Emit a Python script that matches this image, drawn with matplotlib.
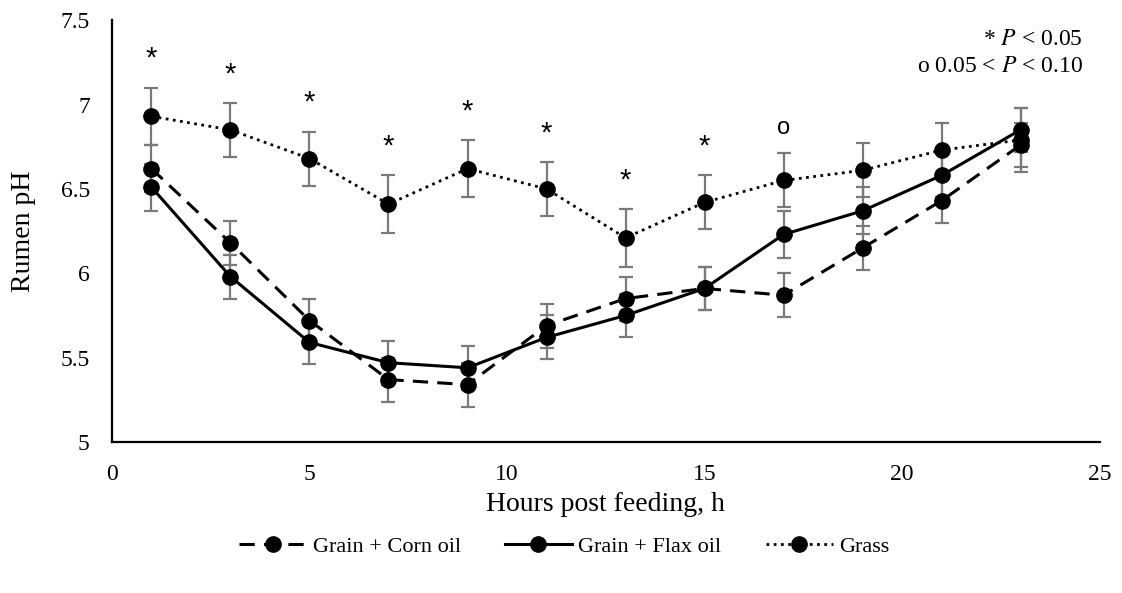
import matplotlib
matplotlib.use('Agg')
import matplotlib.pyplot as plt

plt.rcParams['font.family'] = 'Liberation Serif'
plt.rcParams['mathtext.fontset'] = 'stix'

# hours after feeding
hours = [1, 3, 5, 7, 9, 11, 13, 15, 17, 19, 21, 23]

# mean rumen pH and SE per diet
corn = [6.62, 6.18, 5.72, 5.37, 5.34, 5.69, 5.85, 5.91, 5.87, 6.15, 6.43, 6.76]
corn_se = [0.14, 0.13, 0.13, 0.13, 0.13, 0.13, 0.13, 0.13, 0.13, 0.13, 0.13, 0.13]
flax = [6.51, 5.98, 5.59, 5.47, 5.44, 5.62, 5.75, 5.91, 6.23, 6.37, 6.58, 6.85]
flax_se = [0.14, 0.13, 0.13, 0.13, 0.13, 0.13, 0.13, 0.13, 0.14, 0.14, 0.13, 0.13]
grass = [6.93, 6.85, 6.68, 6.41, 6.62, 6.50, 6.21, 6.42, 6.55, 6.61, 6.73, 6.79]
grass_se = [0.17, 0.16, 0.16, 0.17, 0.17, 0.16, 0.17, 0.16, 0.16, 0.16, 0.16, 0.19]

# significance flags above the grass series
sig = ['*', '*', '*', '*', '*', '*', '*', '*', 'o', '', '', '']

fig = plt.figure(figsize=(11.22, 5.93), dpi=100)
ax = fig.add_axes([0.0998, 0.2546, 0.8802, 0.7114])

err_kw = dict(ecolor='#7a7a7a', elinewidth=1.6, capsize=5, capthick=1.6)
c1 = ax.errorbar(hours, corn, yerr=corn_se, color='black', lw=2.2, ls=(0, (5, 3)),
                 marker='o', ms=11, label='Grain + Corn oil', **err_kw)
c2 = ax.errorbar(hours, flax, yerr=flax_se, color='black', lw=2.2, ls='-',
                 marker='o', ms=11, label='Grain + Flax oil', **err_kw)
c3 = ax.errorbar(hours, grass, yerr=grass_se, color='black', lw=2.0, ls=(0, (1, 1.6)),
                 marker='o', ms=11, label='Grass', **err_kw)

for h, g, s, mark in zip(hours, grass, grass_se, sig):
    if mark == '*':
        ax.text(h, g + s + 0.17, mark, ha='center', va='center',
                fontsize=21, family='Liberation Sans')
    elif mark == 'o':
        ax.text(h, g + s + 0.15, mark, ha='center', va='center',
                fontsize=17, family='Liberation Sans')

ax.text(0.983, 0.955, r'* $\mathit{P}$ < 0.05', transform=ax.transAxes,
        ha='right', va='center', fontsize=17)
ax.text(0.983, 0.890, r'o 0.05 < $\mathit{P}$ < 0.10', transform=ax.transAxes,
        ha='right', va='center', fontsize=17)

ax.set_xlim(0, 25)
ax.set_ylim(5, 7.5)
ax.set_xticks([0, 5, 10, 15, 20, 25])
ax.set_yticks([5, 5.5, 6, 6.5, 7, 7.5])
ax.set_yticklabels(['5', '5.5', '6', '6.5', '7', '7.5'])
ax.tick_params(length=0, labelsize=17)
ax.tick_params(axis='y', pad=16)
ax.tick_params(axis='x', pad=16)
for side in ['top', 'right']:
    ax.spines[side].set_visible(False)
for side in ['left', 'bottom']:
    ax.spines[side].set_linewidth(1.6)

ax.set_xlabel('Hours post feeding, h', fontsize=20, labelpad=5)
ax.set_ylabel('Rumen pH', fontsize=20, labelpad=18)

fig.legend([c1[0], c2[0], c3[0]], ['Grain + Corn oil', 'Grain + Flax oil', 'Grass'],
           loc='center', bbox_to_anchor=(0.503, 0.078), ncol=3, frameon=False,
           fontsize=16, handlelength=3.0, columnspacing=2.0, handletextpad=0.3)

fig.savefig('out.png', dpi=100)
